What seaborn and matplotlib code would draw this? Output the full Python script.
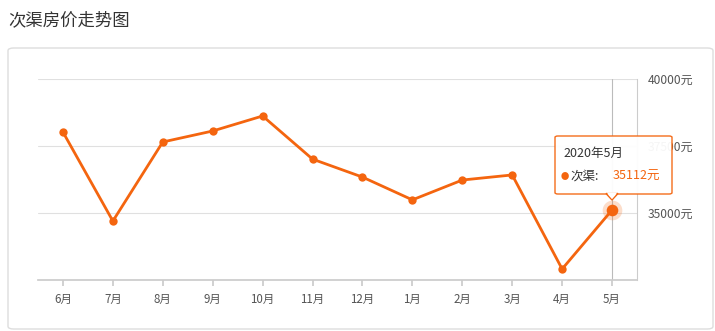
import matplotlib
matplotlib.use("Agg")
import matplotlib.pyplot as plt
import seaborn as sns
import pandas as pd
from matplotlib.patches import FancyBboxPatch, Polygon

sns.set_theme(style="white")
plt.rcParams['font.family'] = ['Noto Sans CJK SC', 'DejaVu Sans']

months = ["6月", "7月", "8月", "9月", "10月", "11月", "12月", "1月", "2月", "3月", "4月", "5月"]
prices = [38020, 34700, 37650, 38060, 38620, 37010, 36340, 35490, 36230, 36420, 32910, 35112]
yticks = [35000, 37500, 40000]
ytick_labels = ["35000元", "37500元", "40000元"]
title = "次渠房价走势图"
tip_title = "2020年5月"
tip_series = "次渠:"
tip_value = "35112元"

orange = "#f4650f"
df = pd.DataFrame({"month": months, "price": prices, "idx": range(len(months))})

fig = plt.figure(figsize=(7.15, 3.31), dpi=100)
W, H = 715, 331

# card background
card = FancyBboxPatch((8 / W, 2 / H), 705 / W, (H - 50) / H,
                      boxstyle="round,pad=0,rounding_size=0.008",
                      transform=fig.transFigure, facecolor="white",
                      edgecolor="#dddddd", linewidth=1.0, zorder=-10)
fig.patches.append(card)
fig.text(8 / W, 1 - 20 / H, title, fontsize=12.5, color="#333333", va="center", ha="left")

ax = fig.add_axes([38 / W, 1 - 280 / H, (637 - 38) / W, (280 - 79) / H])
ax.patch.set_visible(False)
sns.lineplot(data=df, x="idx", y="price", ax=ax, color=orange, linewidth=2.0,
             marker="o", markersize=6, markeredgewidth=0, sort=False)
ax.set_xlim(-0.5, len(months) - 0.5)
ax.set_ylim(32500, 40000)
ax.set_xticks(range(len(months)))
ax.set_xticklabels(months, fontsize=8.3, color="#555555")
ax.set_yticks(yticks)
ax.set_yticklabels(ytick_labels, fontsize=8.7, color="#555555")
ax.yaxis.tick_right()
ax.tick_params(axis="y", length=0, pad=8)
ax.tick_params(axis="x", length=4, color="#cccccc", direction="out", bottom=True, pad=5)
ax.set_xlabel("")
ax.set_ylabel("")
for s in ["top", "left"]:
    ax.spines[s].set_visible(False)
ax.spines["bottom"].set_color("#cccccc")
ax.spines["right"].set_color("#cccccc")
ax.spines["right"].set_linewidth(0.8)
for y in yticks:
    ax.axhline(y, color="#e0e0e0", linewidth=0.8, zorder=0)

# crosshair and highlighted point
last = len(months) - 1
ax.axvline(last, color="#bbbbbb", linewidth=0.8, zorder=1)
ax.scatter([last], [prices[-1]], s=200, color=orange, alpha=0.22, linewidths=0, zorder=4)
ax.scatter([last], [prices[-1]], s=70, color=orange, linewidths=0, zorder=5)

# tooltip
tx0, ty0, tw, th = 555, 136, 117, 58
tip = FancyBboxPatch((tx0 / W, 1 - (ty0 + th) / H), tw / W, th / H,
                     boxstyle="round,pad=0,rounding_size=0.004",
                     transform=fig.transFigure, facecolor="white",
                     edgecolor=orange, linewidth=1.0, zorder=10, alpha=0.95)
fig.patches.append(tip)
px = 612
arrow = Polygon([((px - 6) / W, 1 - (ty0 + th - 0.5) / H),
                 ((px + 6) / W, 1 - (ty0 + th - 0.5) / H),
                 (px / W, 1 - (ty0 + th + 6) / H)], closed=True,
                transform=fig.transFigure, facecolor="white", edgecolor=orange,
                linewidth=1.0, zorder=10)
fig.patches.append(arrow)
cover = Polygon([((px - 5.3) / W, 1 - (ty0 + th - 1.5) / H),
                 ((px + 5.3) / W, 1 - (ty0 + th - 1.5) / H),
                 (px / W, 1 - (ty0 + th + 4.8) / H)], closed=True,
                transform=fig.transFigure, facecolor="white", edgecolor="none", zorder=10.5)
fig.patches.append(cover)
fig.text((tx0 + 8) / W, 1 - (ty0 + 17) / H, tip_title, fontsize=9, color="#333333",
         va="center", ha="left", zorder=11)
fig.text((tx0 + 6) / W, 1 - (ty0 + 40) / H, "●", fontsize=6, color=orange,
         va="center", ha="left", zorder=11)
fig.text((tx0 + 15) / W, 1 - (ty0 + 40) / H, tip_series, fontsize=9, color="#333333",
         va="center", ha="left", zorder=11)
fig.text((tx0 + 58) / W, 1 - (ty0 + 40) / H, tip_value, fontsize=9, color=orange,
         va="center", ha="left", zorder=11)

fig.savefig("out.png", dpi=100)
